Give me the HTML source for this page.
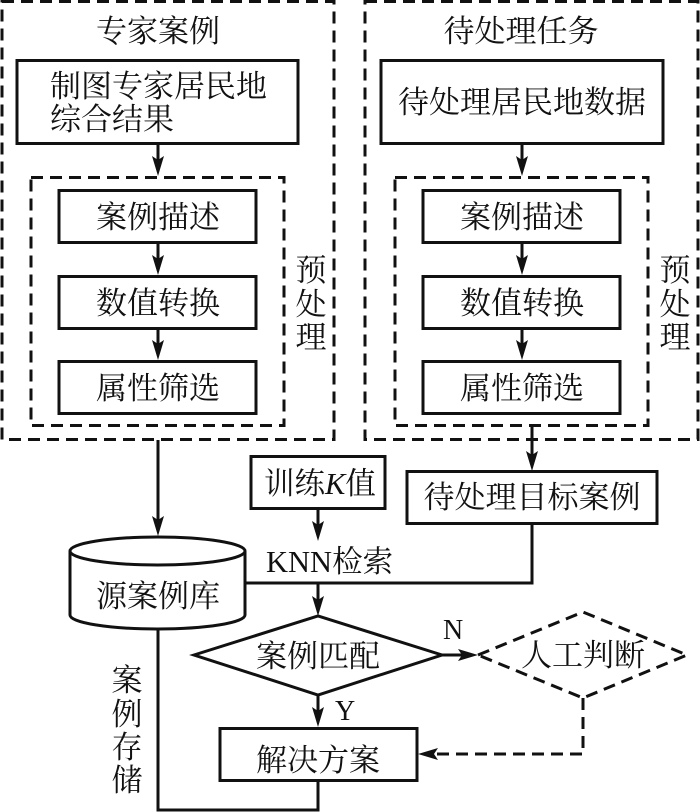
<!DOCTYPE html>
<html><head><meta charset="utf-8">
<style>
html,body{margin:0;padding:0;background:#fff;width:700px;height:812px;overflow:hidden}
svg{display:block}
text{font-family:"Liberation Serif","Noto Serif CJK SC",serif;font-size:31px;fill:#111}
.c{text-anchor:middle}
.s{fill:none;stroke:#111;stroke-width:3}
.d{fill:none;stroke:#111;stroke-width:3;stroke-dasharray:12 7}
.l{stroke:#111;stroke-width:3;fill:none}
.a{fill:#111;stroke:none}
</style></head><body>
<svg width="700" height="812" viewBox="0 0 700 812" xmlns="http://www.w3.org/2000/svg">
<rect width="700" height="812" fill="#fff"/>
<!-- left panel -->
<rect class="d" x="2" y="1.5" width="332" height="438"/>
<rect class="s" x="17" y="60.5" width="281" height="83"/>
<rect class="d" x="31" y="177.5" width="253" height="248"/>
<rect class="s" x="59" y="190.5" width="197" height="52"/>
<rect class="s" x="59" y="276.5" width="197" height="52"/>
<rect class="s" x="59" y="361.5" width="197" height="52"/>
<path class="l" d="M158 144V162M158 243V260M158 329V345M158 440V520"/>
<path class="a" d="M158 176l-6 -20 6 4 6 -4zM158 275l-6 -20 6 4 6 -4zM158 360l-6 -20 6 4 6 -4zM158 536l-6 -20 6 4 6 -4z"/>
<text class="c" x="158" y="42">专家案例</text>
<text x="50" y="97">制图专家居民地</text>
<text x="50" y="130">综合结果</text>
<text class="c" x="158" y="228">案例描述</text>
<text class="c" x="158" y="314">数值转换</text>
<text class="c" x="158" y="399">属性筛选</text>
<text class="c" x="311" y="281">预</text>
<text class="c" x="311" y="315">处</text>
<text class="c" x="311" y="348">理</text>
<!-- right panel -->
<rect class="d" x="365" y="1.5" width="333" height="438"/>
<rect class="s" x="381" y="60.5" width="282" height="83"/>
<rect class="d" x="395" y="177.5" width="253" height="248"/>
<rect class="s" x="423" y="190.5" width="197" height="52"/>
<rect class="s" x="423" y="276.5" width="197" height="52"/>
<rect class="s" x="423" y="361.5" width="197" height="52"/>
<path class="l" d="M522 144V162M522 243V260M522 329V345M532 425V456"/>
<path class="a" d="M522 176l-6 -20 6 4 6 -4zM522 275l-6 -20 6 4 6 -4zM522 360l-6 -20 6 4 6 -4zM532 471l-6 -20 6 4 6 -4z"/>
<text class="c" x="521" y="42">待处理任务</text>
<text class="c" x="522" y="113">待处理居民地数据</text>
<text class="c" x="522" y="228">案例描述</text>
<text class="c" x="522" y="314">数值转换</text>
<text class="c" x="522" y="399">属性筛选</text>
<text class="c" x="675" y="281">预</text>
<text class="c" x="675" y="315">处</text>
<text class="c" x="675" y="348">理</text>
<!-- cylinder -->
<path class="s" d="M70 551A87.500 14 0 0 1 245 551V615A87.500 14 0 0 1 70 615Z"/>
<path class="s" d="M70 551A87.500 14 0 0 0 245 551"/>
<text class="c" x="158" y="607">源案例库</text>
<!-- KNN -->
<rect class="s" x="251" y="456.500" width="134" height="52"/>
<text x="264" y="494" style="font-size:30.500px">训练<tspan font-style="italic">K</tspan>值</text>
<rect class="s" x="407" y="471.500" width="250" height="52"/>
<text class="c" x="532" y="508">待处理目标案例</text>
<text x="266" y="572" style="font-size:30.500px">KNN检索</text>
<path class="l" d="M245 583H532V524M318 509V528M318 583V602"/>
<path class="a" d="M318 541l-6 -20 6 4 6 -4zM318 616l-6 -20 6 4 6 -4z"/>
<!-- match diamond -->
<path class="s" d="M194 655L318 616L442 655L318 695Z"/>
<text class="c" x="318" y="667">案例匹配</text>
<path class="l" d="M442 655H466M318 695V714"/>
<path class="a" d="M478 655l-20 -6 4 6 -4 6zM318 727l-6 -20 6 4 6 -4z"/>
<text x="443" y="639" style="font-size:28px">N</text>
<text x="335" y="720" style="font-size:28px">Y</text>
<!-- manual diamond -->
<path class="d" d="M478 655L583 612L687 655L583 698Z"/>
<text class="c" x="583" y="666">人工判断</text>
<path class="d" d="M583 698V754H435"/>
<path class="a" d="M418 754l20 -6 -4 6 4 6z"/>
<!-- solution -->
<rect class="s" x="220" y="728.500" width="197" height="52"/>
<text class="c" x="318" y="771">解决方案</text>
<path class="l" d="M318 781V810H158V629"/>
<text class="c" x="127" y="691">案</text>
<text class="c" x="127" y="725">例</text>
<text class="c" x="127" y="758">存</text>
<text class="c" x="127" y="791">储</text>
</svg>
</body></html>
